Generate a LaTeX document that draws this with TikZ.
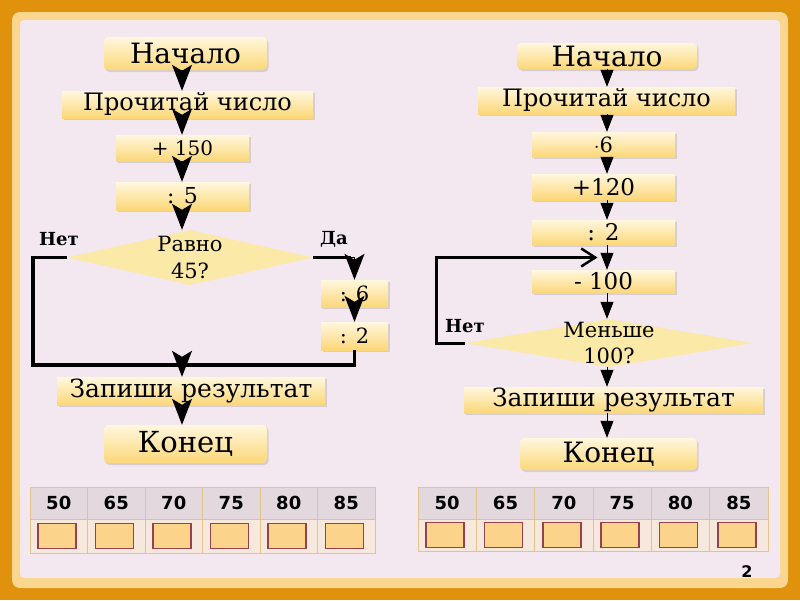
\documentclass[tikz,border=0pt]{standalone}
\usepackage{fontspec}
\setmainfont{DejaVu Serif}
\setsansfont{DejaVu Sans}
\usetikzlibrary{arrows.meta,shapes.geometric,shadows,calc}

\definecolor{frameorange}{RGB}{224,146,12}
\definecolor{framelight}{RGB}{251,214,142}
\definecolor{pagepink}{RGB}{243,231,240}
\definecolor{boxtop}{RGB}{255,247,222}
\definecolor{boxbottom}{RGB}{251,215,120}
\definecolor{diafill}{RGB}{251,233,168}
\definecolor{cellgray}{RGB}{227,216,222}
\definecolor{cellcream}{RGB}{246,232,220}
\definecolor{cellline}{RGB}{226,196,138}
\definecolor{squarefill}{RGB}{252,211,138}
\definecolor{squareline}{RGB}{150,66,78}

\begin{document}
\begin{tikzpicture}[x=1pt,y=-1pt,
    box/.style={rectangle, inner sep=0pt, top color=boxtop, bottom color=boxbottom,
      drop shadow={opacity=0.25, shadow xshift=1.5pt, shadow yshift=-2pt}},
    term/.style={box, rounded corners=4pt},
    decision/.style={diamond, inner sep=0pt, fill=diafill},
    bigarrow/.style={-{Stealth[length=26pt,width=20pt,inset=6pt]}, line width=1.2pt},
    smallarrow/.style={-{Triangle[length=17pt,width=13pt]}, line width=0.8pt},
    loopline/.style={line width=3.5pt},
    branch/.style={font=\bfseries\fontsize{18}{18}\selectfont},
    headcell/.style={rectangle, inner sep=0pt, fill=cellgray, draw=cellline, line width=0.8pt,
      minimum height=32pt, font=\sffamily\bfseries\fontsize{18}{18}\selectfont},
    anscell/.style={rectangle, inner sep=0pt, fill=cellcream, draw=cellline, line width=0.8pt},
    ansbox/.style={rectangle, inner sep=0pt, fill=squarefill, draw=squareline, line width=1.5pt,
      minimum width=38pt, minimum height=25pt}
  ]

  % 1. Slide frame
  \useasboundingbox (0,0) rectangle (800,600);
  \fill[frameorange] (0,0) rectangle (800,600);
  \fill[framelight, rounded corners=8pt] (12,12) rectangle (788,588);
  \fill[pagepink, rounded corners=4pt] (20,20) rectangle (780,578);

  % 2. Left flowchart
  \coordinate (laxis) at (182,0);
  \node[term, minimum width=163pt, minimum height=33pt, font=\fontsize{28}{28}\selectfont] (lstart) at (185.5,53.5) {Начало};
  \node[box, minimum width=251pt, minimum height=27pt, font=\fontsize{24}{24}\selectfont] (lread) at (187.5,104.5) {Прочитай число};
  \node[box, minimum width=133pt, minimum height=26pt, font=\fontsize{20}{20}\selectfont] (ladd) at (182.5,148) {+ 150};
  \node[box, minimum width=133pt, minimum height=28pt, font=\fontsize{22}{22}\selectfont] (ldiv) at (182.5,196) {: 5};
  \node[decision, minimum width=246pt, minimum height=55pt,
    label={[name=ldectext, align=center, font=\fontsize{21}{27}\selectfont]center:Равно\\45?}] (ldec) at (190,257.5) {};
  \node[box, minimum width=67pt, minimum height=27pt, font=\fontsize{21}{21}\selectfont] (lmul) at (354.5,293.5) {: 6};
  \node[box, minimum width=67pt, minimum height=28pt, font=\fontsize{21}{21}\selectfont] (lhalf) at (354.5,336) {: 2};
  \node[box, minimum width=268pt, minimum height=28pt, font=\fontsize{25}{25}\selectfont] (lwrite) at (191,391) {Запиши результат};
  \node[term, minimum width=163pt, minimum height=38pt, font=\fontsize{29}{29}\selectfont] (lend) at (185.5,444) {Конец};
  \coordinate (ljoin) at (182,365);

  \draw[bigarrow] (lstart.south -| laxis) -- (lread.north -| laxis);
  \draw[bigarrow] (lread.south -| laxis) -- (ladd.north -| laxis);
  \draw[bigarrow] (ladd.south -| laxis) -- (ldiv.north -| laxis);
  \draw[bigarrow] (ldiv.south -| laxis) -- (ldec.north -| laxis);
  \draw[loopline] (ldec.east) -- ++(38,0);
  \draw[bigarrow] (ldec.east) -| (lmul.north);
  \draw[bigarrow] (lmul) -- (lhalf);
  \draw[loopline] (ldec.west) -- ++(-34,0) -- ++(0,107.5) -| (lhalf.south);
  \draw[bigarrow] (ljoin) -- (lwrite.north -| ljoin);
  \draw[bigarrow] (lwrite.south -| laxis) -- (lend.north -| laxis);
  \node[branch] (lno) at (59,239) {Нет};
  \node[branch] (lyes) at (334,239) {Да};

  % 3. Right flowchart
  \coordinate (raxis) at (607,0);
  \node[term, minimum width=180pt, minimum height=26pt, font=\fontsize{28}{28}\selectfont] (rstart) at (607,56) {Начало};
  \node[box, minimum width=257pt, minimum height=27pt, font=\fontsize{24}{24}\selectfont] (rread) at (606.5,100.5) {Прочитай число};
  \node[box, minimum width=143pt, minimum height=25pt, font=\fontsize{21}{21}\selectfont] (rmul) at (603.5,144.5) {$\cdot$6};
  \node[box, minimum width=143pt, minimum height=26pt, font=\fontsize{23}{23}\selectfont] (radd) at (603.5,187) {+120};
  \node[box, minimum width=143pt, minimum height=25pt, font=\fontsize{23}{23}\selectfont] (rdiv) at (603.5,232.5) {: 2};
  \node[box, minimum width=143pt, minimum height=23pt, font=\fontsize{23}{23}\selectfont] (rsub) at (603.5,281.5) {- 100};
  \node[decision, minimum width=288pt, minimum height=48pt,
    label={[name=rdectext, align=center, font=\fontsize{21}{26}\selectfont]center:Меньше\\100?}] (rdec) at (609,343) {};
  \node[box, minimum width=299pt, minimum height=26pt, font=\fontsize{25}{25}\selectfont] (rwrite) at (613.5,400) {Запиши результат};
  \node[term, minimum width=177pt, minimum height=32pt, font=\fontsize{28}{28}\selectfont] (rend) at (608.5,454) {Конец};
  \coordinate (rjoin) at ($(rdiv.south)!0.5!(rsub.north)$);

  \draw[smallarrow] (rstart.south -| raxis) -- (rread.north -| raxis);
  \draw[smallarrow] (rread.south -| raxis) -- (rmul.north -| raxis);
  \draw[smallarrow] (rmul.south -| raxis) -- (radd.north -| raxis);
  \draw[smallarrow] (radd.south -| raxis) -- (rdiv.north -| raxis);
  \draw[smallarrow] (rdiv.south -| raxis) -- (rsub.north -| raxis);
  \draw[smallarrow] (rsub.south -| raxis) -- (rdec.north -| raxis);
  \draw[smallarrow] (rdec.south -| raxis) -- (rwrite.north -| raxis);
  \draw[smallarrow] (rwrite.south -| raxis) -- (rend.north -| raxis);
  \draw[line width=3pt, -{Straight Barb[length=14pt,width=18pt,line width=2.5pt]}]
    (rdec.west) -- ++(-28,0) |- ([xshift=-6pt]rjoin);
  \node[branch] (rno) at (465,326) {Нет};

  % 4. Answer tables
  \foreach \tx/\tw/\th/\tn in {30/57.5/34/l, 418/58.33/32/r}{
    \foreach \v [count=\i from 0] in {50,65,70,75,80,85}{
      \node[headcell, minimum width=\tw*1pt] (\tn-head-\i) at (\tx+\i*\tw+\tw/2,503) {\v};
      \node[anscell, minimum width=\tw*1pt, minimum height=\th*1pt] (\tn-cell-\i) at (\tx+\i*\tw+\tw/2,519+\th/2) {};
      \node[ansbox] (\tn-box-\i) at ($(\tn-cell-\i)+(-2,0)$) {};
    }
  }

  \node[font=\sffamily\bfseries\fontsize{16}{16}\selectfont] (pagenum) at (747,572) {2};

\end{tikzpicture}
\end{document}
